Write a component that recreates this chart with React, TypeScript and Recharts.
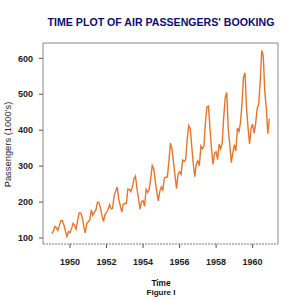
import React from "react";
import { LineChart, Line, XAxis, YAxis, ReferenceLine } from "recharts";

// AirPassengers, monthly totals (1000's), 1949-1960
const startYear = 1949;
const passengers = [
  112, 118, 132, 129, 121, 135, 148, 148, 136, 119, 104, 118,
  115, 126, 141, 135, 125, 149, 170, 170, 158, 133, 114, 140,
  145, 150, 178, 163, 172, 178, 199, 199, 184, 162, 146, 166,
  171, 180, 193, 181, 183, 218, 230, 242, 209, 191, 172, 194,
  196, 196, 236, 235, 229, 243, 264, 272, 237, 211, 180, 201,
  204, 188, 235, 227, 234, 264, 302, 293, 259, 229, 203, 229,
  242, 233, 267, 269, 270, 315, 364, 347, 312, 274, 237, 278,
  284, 277, 317, 313, 318, 374, 413, 405, 355, 306, 271, 306,
  315, 301, 356, 348, 355, 422, 465, 467, 404, 347, 305, 336,
  340, 318, 362, 348, 363, 435, 491, 505, 404, 359, 310, 337,
  360, 342, 406, 396, 420, 472, 548, 559, 463, 407, 362, 405,
  417, 391, 419, 461, 472, 535, 622, 606, 508, 461, 390, 432,
];
const xTicks = [1950, 1952, 1954, 1956, 1958, 1960];
const yTicks = [100, 200, 300, 400, 500, 600];

const data = passengers.map((v, i) => ({ t: startYear + i / 12, value: v }));

const xMin = 1948.52;
const xMax = 1961.39;
const yMin = 83.28;
const yMax = 642.72;

const font = "Liberation Sans, Arial";
const tickStyle = { fontSize: 9, fontFamily: font, fontWeight: "bold", fill: "#222" };

const App = () => {
  return (
    <div style={{ position: "absolute", left: 0, top: 0, width: 300, height: 300, background: "#fff" }}>
      <LineChart width={300} height={300} data={data} margin={{ top: 43, right: 22, bottom: 0, left: 0 }}>
        <XAxis
          dataKey="t"
          type="number"
          domain={[xMin, xMax]}
          allowDataOverflow
          ticks={xTicks}
          height={56}
          axisLine={false}
          tickSize={4}
          tickMargin={11}
          tickLine={{ stroke: "#555" }}
          tick={tickStyle}
        />
        <YAxis
          type="number"
          domain={[yMin, yMax]}
          allowDataOverflow
          ticks={yTicks}
          width={43}
          axisLine={false}
          tickSize={4}
          tickMargin={6}
          tickLine={{ stroke: "#555" }}
          tick={tickStyle}
        />
        <ReferenceLine x={xMin} stroke="#888" strokeWidth={1} />
        <ReferenceLine x={xMax} stroke="#888" strokeWidth={1} />
        <ReferenceLine y={yMax} stroke="#888" strokeWidth={1} />
        <ReferenceLine y={yMin} stroke="#777" strokeWidth={1} strokeDasharray="2 1" />
        <Line
          type="linear"
          dataKey="value"
          stroke="#e4762c"
          strokeWidth={1.4}
          dot={false}
          isAnimationActive={false}
        />
      </LineChart>
      <div
        style={{
          position: "absolute", left: 11, top: 17, width: 300, textAlign: "center",
          fontFamily: font, fontWeight: "bold", fontSize: 10.6,
          lineHeight: "10.6px", color: "#0c0c6e", whiteSpace: "nowrap",
        }}
      >
        TIME PLOT OF AIR PASSENGERS' BOOKING
      </div>
      <div
        style={{
          position: "absolute", left: 11, top: 279, width: 300, textAlign: "center",
          fontFamily: font, fontWeight: "bold", fontSize: 8.3,
          lineHeight: "8px", color: "#111",
        }}
      >
        Time
      </div>
      <div
        style={{
          position: "absolute", left: 11, top: 289, width: 300, textAlign: "center",
          fontFamily: font, fontWeight: "bold", fontSize: 8,
          lineHeight: "8px", color: "#111",
        }}
      >
        Figure I
      </div>
      <div style={{ position: "absolute", left: 7, top: 144, width: 0, height: 0 }}>
        <div
          style={{
            position: "absolute", left: -60, top: -4.5, width: 120, textAlign: "center",
            transform: "rotate(-90deg)", fontFamily: font, fontSize: 9.4,
            lineHeight: "9px", color: "#222", whiteSpace: "nowrap",
          }}
        >
          Passengers (1000's)
        </div>
      </div>
    </div>
  );
};

export default App;
